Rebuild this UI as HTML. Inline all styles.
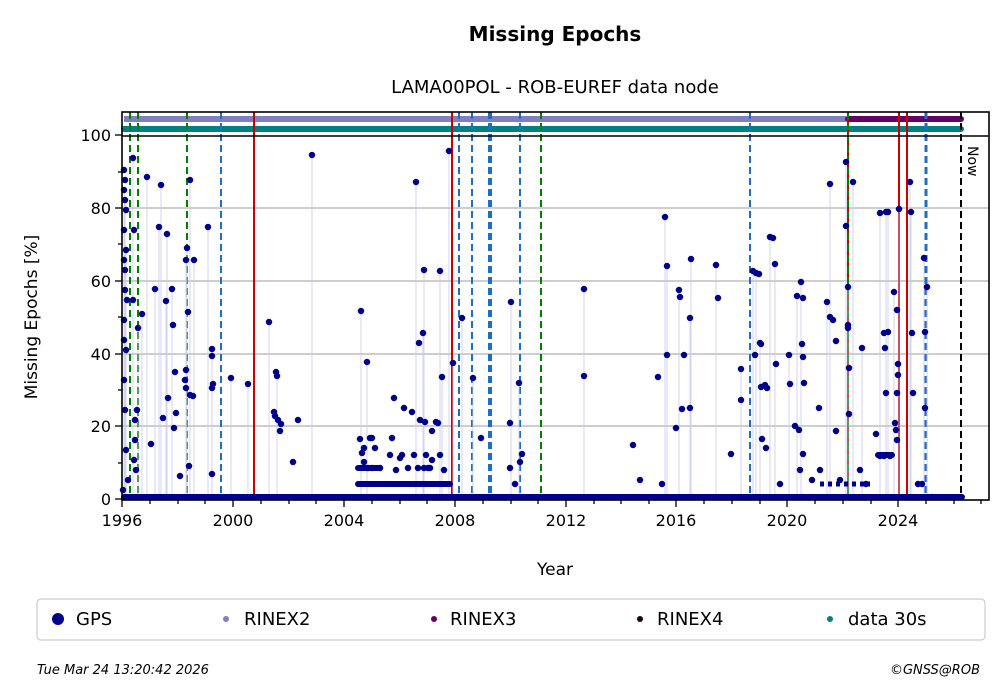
<!DOCTYPE html>
<html><head><meta charset="utf-8"><style>
body{margin:0;background:#fff;}
svg{display:block;font-family:"DejaVu Sans","Liberation Sans",sans-serif;}
</style></head><body>
<svg width="1008" height="699" viewBox="0 0 1008 699">
<text x="555" y="41" text-anchor="middle" font-size="20" font-weight="bold" fill="#000">Missing Epochs</text>
<text x="555" y="93" text-anchor="middle" font-size="18" fill="#000">LAMA00POL - ROB-EUREF data node</text>
<g stroke="#b0b0b0" stroke-width="1.2">
<line x1="122" y1="208" x2="989" y2="208"/><line x1="122" y1="281" x2="989" y2="281"/>
<line x1="122" y1="354" x2="989" y2="354"/><line x1="122" y1="426" x2="989" y2="426"/>
</g>
<line x1="124" y1="119" x2="846" y2="119" stroke="#8080c0" stroke-width="6"/>
<line x1="848" y1="119" x2="961" y2="119" stroke="#660066" stroke-width="6" stroke-linecap="round"/>
<line x1="124" y1="129" x2="961" y2="129" stroke="#008080" stroke-width="6" stroke-linecap="round"/>
<g stroke-width="2" fill="none">
<g stroke="#008000" stroke-dasharray="7,4">
<line x1="130" y1="112" x2="130" y2="500"/><line x1="138" y1="112" x2="138" y2="500"/>
<line x1="187" y1="112" x2="187" y2="500"/><line x1="541" y1="112" x2="541" y2="500"/>
</g>
<g stroke="#1f6fc0" stroke-dasharray="7,4">
<line x1="221" y1="112" x2="221" y2="500"/><line x1="459" y1="112" x2="459" y2="500"/>
<line x1="472" y1="112" x2="472" y2="500"/><line x1="489" y1="112" x2="489" y2="500"/>
<line x1="491" y1="112" x2="491" y2="500"/><line x1="520" y1="112" x2="520" y2="500"/>
<line x1="750" y1="112" x2="750" y2="500"/><line x1="926" y1="112" x2="926" y2="500" stroke-width="3"/>
</g>
<g stroke="#d00000">
<line x1="254" y1="112" x2="254" y2="500"/><line x1="452" y1="112" x2="452" y2="500"/>
<line x1="899" y1="112" x2="899" y2="500"/><line x1="907" y1="112" x2="907" y2="500"/>
<line x1="848" y1="112" x2="848" y2="500"/>
</g>
<line x1="848" y1="112" x2="848" y2="500" stroke="#008000" stroke-dasharray="7,4"/>
<line x1="961" y1="112" x2="961" y2="500" stroke="#000" stroke-dasharray="7,4"/>
</g>
<text transform="translate(968,146) rotate(90)" font-size="14">Now</text>
<path stroke="#c8c8ee" stroke-width="0.8" fill="none" d="M124 190V499M125 200V499M126 250V499M133 158V499M138 328V499M142 314V499M147 177V499M155 289V499M159 227V499M161 185V499M166 301V499M167 234V499M172 289V499M186 260V499M187 248V499M190 180V499M194 260V499M208 227V499M212 349V499M231 378V499M248 384V499M269 322V499M277 376V499M312 155V499M361 311V499M367 362V499M416 182V499M424 270V499M423 333V499M440 271V499M442 377V499M449 151V499M453 363V499M462 318V499M473 378V499M511 302V499M519 383V499M584 289V499M584 376V499M665 217V499M667 266V499M679 290V499M690 318V499M691 259V499M716 265V499M741 400V499M741 369V499M753 271V499M756 273V499M760 343V499M770 237V499M775 264V499M789 355V499M797 296V499M801 282V499M827 302V499M830 184V499M846 162V499M846 226V499M848 287V499M853 182V499M862 348V499M880 213V499M886 212V499M888 212V499M894 292V499M899 209V499M910 182V499M911 212V499M924 258V499M927 287V499"/>
<path stroke="#00008b" stroke-width="6.5" stroke-linecap="round" fill="none" d="
M124 190h0M125 200h0M126 210h0M124 230h0M126 250h0M125 270h0M127 300h0M124 340h0M126 350h0M124 380h0M125 410h0M126 450h0M128 480h0M123 490h0M124 170h0M125 180h0M124 260h0M125 290h0M124 320h0
M133 158h0M134 230h0M133 300h0M135 440h0M134 460h0M136 470h0M135 420h0M138 328h0M137 410h0M142 314h0M147 177h0M151 444h0M155 289h0M159 227h0M161 185h0M163 418h0M166 301h0M167 234h0M168 398h0M172 289h0M173 325h0M175 372h0M176 413h0M174 428h0M180 476h0M185 380h0M186 370h0M186 260h0M187 248h0M186 388h0M188 312h0M190 180h0M189 466h0M190 395h0M193 396h0M194 260h0M208 227h0M212 349h0M212 356h0M213 384h0M212 388h0M212 474h0M231 378h0M248 384h0M269 322h0M274 412h0M275 416h0M277 376h0M276 372h0M278 420h0M280 431h0M281 424h0M298 420h0M293 462h0M312 155h0M361 311h0M367 362h0M362 453h0M364 462h0
M416 182h0M424 270h0M419 343h0M423 333h0M440 271h0M442 377h0M449 151h0M453 363h0M462 318h0M473 378h0M481 438h0M511 302h0M510 423h0M519 383h0M522 454h0M520 462h0M584 289h0M584 376h0M633 445h0M658 377h0M665 217h0M667 266h0M667 355h0M679 290h0M680 297h0M684 355h0M682 409h0M676 428h0M690 318h0M690 408h0M691 259h0M716 265h0M718 298h0M731 454h0M741 400h0M741 369h0M753 271h0M755 355h0M756 273h0M759 274h0M760 343h0M761 344h0M762 439h0M761 387h0M765 385h0M766 448h0M767 388h0M770 237h0M773 238h0M775 264h0M776 364h0M789 355h0M790 384h0M795 426h0M799 430h0M797 296h0M801 282h0M803 298h0M803 357h0M802 344h0M804 383h0M803 454h0M819 408h0M827 302h0M830 184h0M830 317h0M833 320h0M836 431h0M836 341h0M846 162h0M846 226h0M848 287h0M848 325h0M848 328h0M849 414h0M849 368h0M853 182h0M862 348h0M876 434h0M880 213h0M884 333h0M886 212h0M888 212h0M885 348h0M886 393h0M888 332h0M894 292h0M895 423h0M896 430h0M897 440h0M898 375h0M898 364h0M899 209h0M897 310h0M897 393h0M910 182h0M911 212h0M912 333h0M913 393h0M924 258h0M925 332h0M925 408h0M927 287h0
M360 439h0M364 448h0M370 438h0M372 438h0M375 448h0M368 468h0M372 468h0M380 468h0M392 438h0M400 458h0M394 398h0M404 408h0M412 412h0M420 420h0M425 422h0M430 468h0M432 460h0M436 422h0M438 423h0M444 470h0M432 431h0M428 468h0M396 470h0M510 468h0M515 484h0M640 480h0M662 484h0M780 484h0M800 470h0M812 480h0M820 470h0M840 480h0M860 470h0M866 484h0M880 456h0M884 456h0M890 456h0M918 484h0M922 484h0M932 497h0
M390 455h0M402 455h0M414 455h0M426 455h0M440 455h0M408 468h0M418 468h0M424 468h0
"/>
<line x1="124" y1="497" x2="962" y2="497" stroke="#00008b" stroke-width="6" stroke-linecap="round"/>
<line x1="358" y1="484" x2="450" y2="484" stroke="#00008b" stroke-width="6" stroke-linecap="round"/>
<line x1="358" y1="468" x2="380" y2="468" stroke="#00008b" stroke-width="6" stroke-linecap="round"/>
<line x1="820" y1="484" x2="870" y2="484" stroke="#00008b" stroke-width="5" stroke-dasharray="4,4"/>
<line x1="878" y1="455" x2="892" y2="455" stroke="#00008b" stroke-width="6" stroke-linecap="round"/>
<rect x="122" y="112" width="867" height="388" fill="none" stroke="#000" stroke-width="1.6"/>
<line x1="122" y1="136" x2="989" y2="136" stroke="#000" stroke-width="1.6"/>
<g stroke="#000" stroke-width="1.3">
<line x1="115" y1="499" x2="122" y2="499"/><line x1="115" y1="426" x2="122" y2="426"/><line x1="115" y1="354" x2="122" y2="354"/><line x1="115" y1="281" x2="122" y2="281"/><line x1="115" y1="208" x2="122" y2="208"/><line x1="115" y1="135" x2="122" y2="135"/>
<line x1="118" y1="463" x2="122" y2="463"/><line x1="118" y1="390" x2="122" y2="390"/><line x1="118" y1="317" x2="122" y2="317"/><line x1="118" y1="244" x2="122" y2="244"/><line x1="118" y1="172" x2="122" y2="172"/>
</g>
<g font-size="16" text-anchor="end">
<text x="111" y="505">0</text><text x="111" y="432">20</text><text x="111" y="360">40</text><text x="111" y="287">60</text><text x="111" y="214">80</text><text x="111" y="141">100</text>
</g>
<text transform="translate(37,317) rotate(-90)" text-anchor="middle" font-size="17">Missing Epochs [%]</text>
<g stroke="#000" stroke-width="1.3">
<line x1="122" y1="500" x2="122" y2="507"/><line x1="233" y1="500" x2="233" y2="507"/><line x1="344" y1="500" x2="344" y2="507"/><line x1="455" y1="500" x2="455" y2="507"/><line x1="566" y1="500" x2="566" y2="507"/><line x1="676" y1="500" x2="676" y2="507"/><line x1="787" y1="500" x2="787" y2="507"/><line x1="898" y1="500" x2="898" y2="507"/>
<path d="M150 500v4M178 500v4M205 500v4M261 500v4M289 500v4M316 500v4M372 500v4M400 500v4M427 500v4M483 500v4M511 500v4M538 500v4M594 500v4M621 500v4M649 500v4M704 500v4M732 500v4M760 500v4M815 500v4M843 500v4M871 500v4M926 500v4M954 500v4M981 500v4"/>
</g>
<g font-size="16" text-anchor="middle">
<text x="122" y="526">1996</text><text x="233" y="526">2000</text><text x="344" y="526">2004</text><text x="455" y="526">2008</text><text x="566" y="526">2012</text><text x="676" y="526">2016</text><text x="787" y="526">2020</text><text x="898" y="526">2024</text>
</g>
<text x="555" y="575" text-anchor="middle" font-size="17">Year</text>
<rect x="37" y="599" width="948" height="41" rx="4" fill="#fff" stroke="#ccc" stroke-width="1.2"/>
<circle cx="58" cy="619" r="6" fill="#00008b"/><text x="76" y="625" font-size="18">GPS</text>
<circle cx="226" cy="619" r="3" fill="#8080c0"/><text x="244" y="625" font-size="18">RINEX2</text>
<circle cx="434" cy="619" r="3" fill="#660066"/><text x="450" y="625" font-size="18">RINEX3</text>
<circle cx="640" cy="619" r="3" fill="#220011"/><text x="657" y="625" font-size="18">RINEX4</text>
<circle cx="830" cy="619" r="3" fill="#008080"/><text x="848" y="625" font-size="18">data 30s</text>
<text x="37" y="674" font-size="13" font-style="italic">Tue Mar 24 13:20:42 2026</text>
<text x="980" y="674" font-size="13" font-style="italic" text-anchor="end">©GNSS@ROB</text>
</svg>
</body></html>
